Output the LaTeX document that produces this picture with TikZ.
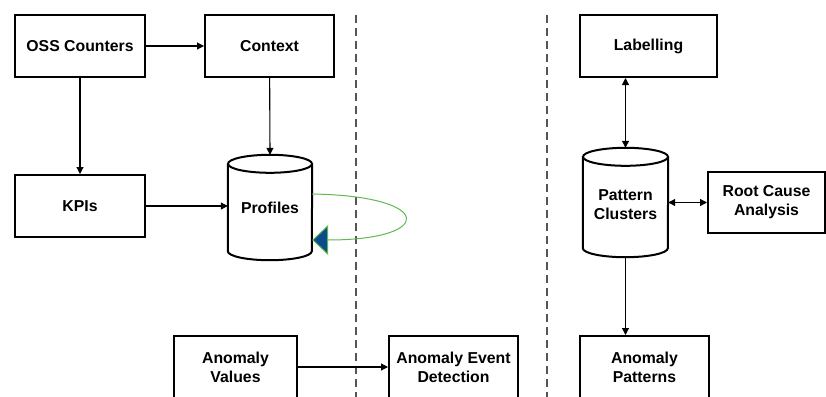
\documentclass[tikz,border=0pt]{standalone}
\usepackage{fontspec}
\setmainfont{Liberation Sans}
\usetikzlibrary{arrows.meta,calc}
\definecolor{loopgreen}{RGB}{95,185,80}
\definecolor{loopblue}{RGB}{12,76,140}
\definecolor{dashgray}{RGB}{85,85,85}
\tikzset{
  box/.style={draw=black, line width=2pt, fill=white, inner sep=0pt, align=center,
    font=\fontsize{15.8}{19}\selectfont\bfseries},
  cyl/.style={inner sep=0pt, align=center, font=\fontsize{15.8}{19}\selectfont\bfseries},
  cylline/.style={draw=black, line width=2pt},
  conn/.style={draw=black, line width=1.1pt, -{Triangle[length=7pt,width=7pt]}},
  bconn/.style={draw=black, line width=1.1pt, {Triangle[length=7pt,width=7pt]}-{Triangle[length=7pt,width=7pt]}},
  sep/.style={draw=dashgray, line width=1.2pt, dash pattern=on 8pt off 5pt},
  selfloop/.style={draw=loopgreen, line width=1pt,
    -{Triangle[length=16pt,width=30pt,fill=loopblue,line width=1pt]}}
}
\begin{document}
\begin{tikzpicture}[x=1pt,y=-1pt]
\useasboundingbox (0,0) rectangle (826,396);
\clip (0,0) rectangle (826,396);

% separators
\coordinate (s1t) at (356,15); \coordinate (s1b) at (356,400);
\coordinate (s2t) at (547,15); \coordinate (s2b) at (547,400);
\draw[sep] (s1t) -- (s1b);
\draw[sep] (s2t) -- (s2b);

% boxes
\node[box, minimum width=130pt, minimum height=62pt] (oss) at (80,46) {OSS Counters};
\node[box, minimum width=129pt, minimum height=62pt] (ctx) at (269.5,46) {Context};
\node[box, minimum width=130pt, minimum height=62pt] (kpi) at (80,206) {KPIs};
\node[box, minimum width=137pt, minimum height=62pt] (lab) at (648.5,46) {Labelling};
\node[box, minimum width=117pt, minimum height=61pt] (rca) at (766.5,202.5) {Root Cause\\Analysis};
\node[box, minimum width=123pt, minimum height=62pt] (av) at (235.5,367) {Anomaly\\Values};
\node[box, minimum width=129pt, minimum height=62pt] (aed) at (453.5,367) {Anomaly Event\\Detection};
\node[box, minimum width=129pt, minimum height=62pt] (ap) at (644.5,367) {Anomaly\\Patterns};

% cylinders
\node[cyl, minimum width=84pt, minimum height=105pt] (prof) at (270,207.5) {};
\draw[cylline] ([yshift=-9pt]prof.north west) -- ([yshift=9pt]prof.south west)
  arc[start angle=180, end angle=360, x radius=42pt, y radius=9pt]
  -- ([yshift=-9pt]prof.north east);
\draw[cylline] ([yshift=-9pt]prof.north) ellipse[x radius=42pt, y radius=9pt];
\node[cyl] at (prof.center) {Profiles};

\node[cyl, minimum width=85pt, minimum height=109pt] (pc) at (625.5,202.5) {};
\draw[cylline] ([yshift=-9pt]pc.north west) -- ([yshift=9pt]pc.south west)
  arc[start angle=180, end angle=360, x radius=42.5pt, y radius=9pt]
  -- ([yshift=-9pt]pc.north east);
\draw[cylline] ([yshift=-9pt]pc.north) ellipse[x radius=42.5pt, y radius=9pt];
\node[cyl] at ([yshift=-2pt]pc.center) {Pattern\\Clusters};

% connectors
\draw[conn] (oss) -- (ctx);
\draw[conn] (oss) -- (kpi);
\draw[conn] (ctx) -- (prof.north);
\draw[conn] (kpi.east) -- (kpi.east -| prof.west);
\draw[bconn] (lab.south -| pc.north) -- (pc.north);
\draw[bconn] (pc.east) -- (rca.west);
\draw[conn] (pc.south) -- (pc.south |- ap.north);
\draw[conn] (av) -- (aed);

% self loop
\draw[selfloop] ([yshift=13.5pt]prof.east) .. controls ([xshift=123pt,yshift=11.5pt]prof.east) and ([xshift=123pt,yshift=-32.5pt]prof.east) .. ([yshift=-32.5pt]prof.east);
\end{tikzpicture}
\end{document}
